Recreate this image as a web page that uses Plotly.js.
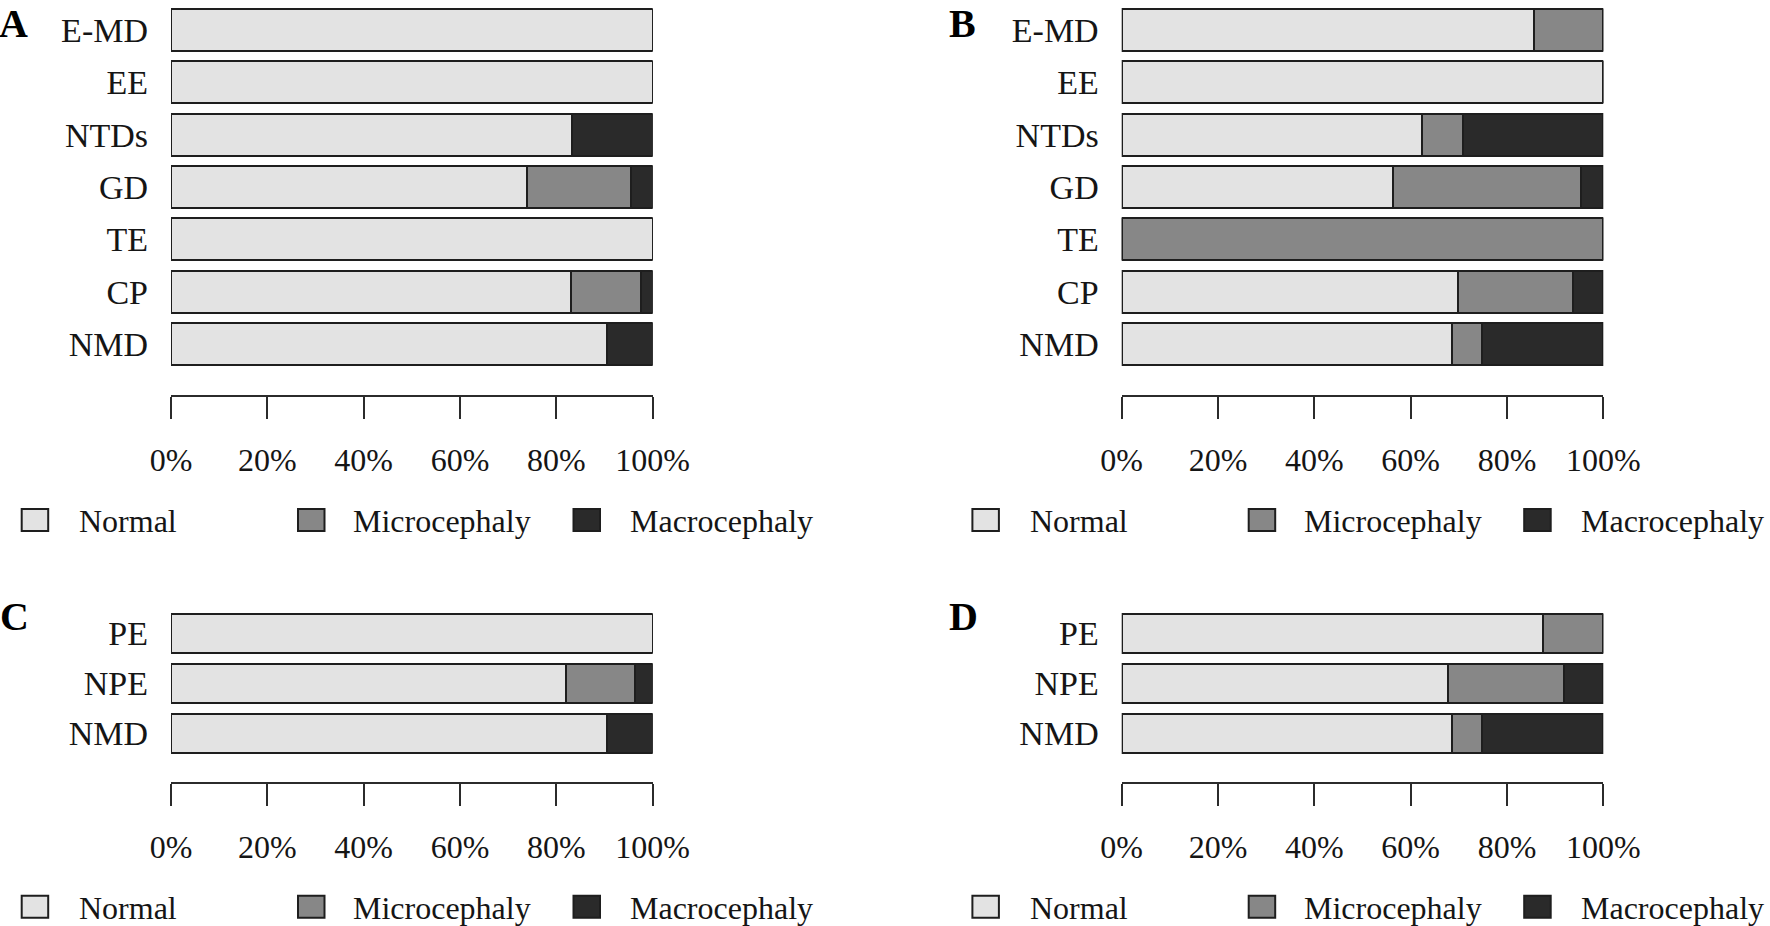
<!DOCTYPE html>
<html>
<head>
<meta charset="utf-8">
<script src="https://cdn.plot.ly/plotly-3.0.1.min.js"></script>
<style>html,body{margin:0;padding:0;background:#fff;}#chart{width:1770px;height:926px;}</style>
</head>
<body>
<div id="chart"></div>
<script>
// ---------- data ----------
const seriesNames = ['Normal', 'Microcephaly', 'Macrocephaly'];
const tickValues = [0, 20, 40, 60, 80, 100];
const tickLabels = ['0%', '20%', '40%', '60%', '80%', '100%'];

const catsAB = ['E-MD', 'EE', 'NTDs', 'GD', 'TE', 'CP', 'NMD'];
const aNormal = [100, 100, 83.3, 73.9, 100, 83.0, 90.6];
const aMicro  = [0, 0, 0, 21.5, 0, 14.6, 0];
const aMacro  = [0, 0, 16.7, 4.6, 0, 2.4, 9.4];

const bNormal = [85.6, 100, 62.3, 56.4, 0, 69.9, 68.5];
const bMicro  = [14.4, 0, 8.5, 39.0, 100, 23.8, 6.3];
const bMacro  = [0, 0, 29.2, 4.6, 0, 6.3, 25.2];

const catsCD = ['PE', 'NPE', 'NMD'];
const cNormal = [100, 82.0, 90.6];
const cMicro  = [0, 14.3, 0];
const cMacro  = [0, 3.7, 9.4];

const dNormal = [87.5, 67.7, 68.5];
const dMicro  = [12.5, 24.1, 6.3];
const dMacro  = [0, 8.2, 25.2];

const panelLetters = ['A', 'B', 'C', 'D'];

// ---------- styling ----------
const W = 1770, H = 926;
const fills = ['#e3e3e3', '#878787', '#2a2a2a'];
const edge = '#1e1e1e';
const FONT = 'Liberation Serif, Times New Roman, serif';
const textColor = '#151515';

const px = v => v / W;
const py = v => 1 - v / H;

// panel geometry (pixels)
const panels = [
  {letter: panelLetters[0], cats: catsAB, vals: [aNormal, aMicro, aMacro], x0: 171, x1: 652.7, yTop: 1.2, yBot: 395, rTop: -0.55, rBot: 6.975, bw: 0.8, ax: '', lx: -3, ly: -1.5},
  {letter: panelLetters[1], cats: catsAB, vals: [bNormal, bMicro, bMacro], x0: 1121.7, x1: 1603.3, yTop: 1.2, yBot: 395, rTop: -0.55, rBot: 6.975, bw: 0.8, ax: '2', lx: 947, ly: -1.5},
  {letter: panelLetters[2], cats: catsCD, vals: [cNormal, cMicro, cMacro], x0: 171, x1: 652.7, yTop: 606, yBot: 781.7, rTop: -0.55, rBot: 2.964, bw: 0.78, ax: '3', lx: -2, ly: 591.5},
  {letter: panelLetters[3], cats: catsCD, vals: [dNormal, dMicro, dMacro], x0: 1121.7, x1: 1603.3, yTop: 606, yBot: 781.7, rTop: -0.55, rBot: 2.964, bw: 0.78, ax: '4', lx: 947, ly: 591.5}
];

const data = [];
const layout = {
  width: W, height: H,
  margin: {l: 0, r: 0, t: 0, b: 0},
  paper_bgcolor: '#ffffff', plot_bgcolor: '#ffffff',
  barmode: 'stack',
  showlegend: false,
  shapes: [], annotations: [],
  font: {family: FONT, color: textColor}
};

panels.forEach(p => {
  for (let s = 0; s < 3; s++) {
    data.push({
      type: 'bar', orientation: 'h',
      name: seriesNames[s],
      x: p.vals[s], y: p.cats,
      xaxis: 'x' + p.ax, yaxis: 'y' + p.ax,
      width: p.bw,
      marker: {color: fills[s], line: {color: edge, width: 2}},
      cliponaxis: false,
      hoverinfo: 'skip'
    });
  }
  layout['xaxis' + p.ax] = {
    domain: [px(p.x0), px(p.x1)], anchor: 'y' + p.ax,
    range: [0, 100], fixedrange: true,
    showgrid: false, zeroline: false,
    showline: true, linecolor: '#2b2b2b', linewidth: 2,
    ticks: 'outside', ticklen: 22, tickwidth: 2, tickcolor: '#2b2b2b',
    tickvals: tickValues, ticktext: tickLabels,
    tickfont: {family: FONT, size: 32, color: textColor},
    ticklabelstandoff: 14
  };
  layout['yaxis' + p.ax] = {
    domain: [py(p.yBot), py(p.yTop)], anchor: 'x' + p.ax,
    type: 'category', categoryorder: 'array', categoryarray: p.cats,
    range: [p.rBot, p.rTop], fixedrange: true,
    showgrid: false, zeroline: false, showline: false, ticks: '',
    tickfont: {family: FONT, size: 34, color: textColor},
    ticklabelstandoff: 22
  };
  // panel letter
  layout.annotations.push({
    xref: 'paper', yref: 'paper', x: px(p.lx), y: py(p.ly),
    xanchor: 'left', yanchor: 'top', showarrow: false,
    text: '<b>' + p.letter + '</b>',
    font: {family: FONT, size: 40, color: '#000'}
  });
  // legend (custom, large squares)
  const legendY = p.yBot + 125;
  const off = p.x0 - 171;
  const sqX = [21.7, 298, 573.5];
  const txX = [77, 351, 628];
  for (let s = 0; s < 3; s++) {
    layout.shapes.push({
      type: 'rect', xref: 'paper', yref: 'paper',
      x0: px(sqX[s] + off), x1: px(sqX[s] + off + 26.5),
      y0: py(legendY - 11), y1: py(legendY + 11),
      fillcolor: fills[s], line: {color: edge, width: 2}
    });
    layout.annotations.push({
      xref: 'paper', yref: 'paper', x: px(txX[s] + off), y: py(legendY + 1),
      xanchor: 'left', yanchor: 'middle', showarrow: false,
      text: seriesNames[s],
      font: {family: FONT, size: 32, color: textColor}
    });
  }
});

Plotly.newPlot('chart', data, layout, {displayModeBar: false, staticPlot: true});
</script>
</body>
</html>
